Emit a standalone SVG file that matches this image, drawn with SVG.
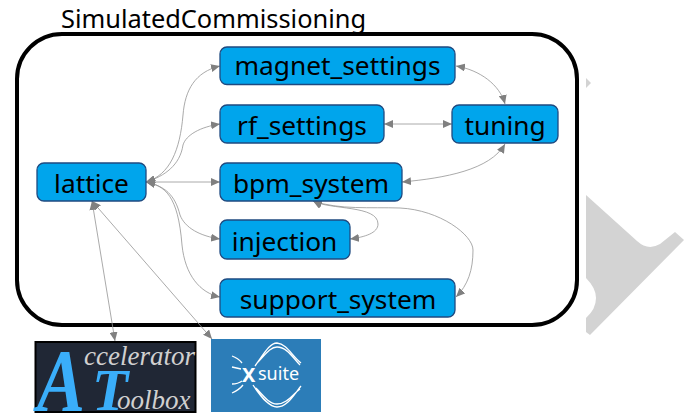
<svg xmlns="http://www.w3.org/2000/svg" width="694" height="414" viewBox="0 0 694 414">
<style>
.n{fill:#00a5ec;stroke:#1f4a80;stroke-width:1.3}
.t{font-family:"Noto Sans","DejaVu Sans",sans-serif;font-size:26.3px;fill:#000;text-anchor:middle}
.e{fill:none;stroke:#949494;stroke-width:.8;marker-start:url(#a);marker-end:url(#a)}
.w{fill:none;stroke:#fff;stroke-width:1.3}
.s{font-family:"Liberation Serif",serif;font-style:italic}
.b{fill:#3aaefa;font-weight:bold}
.g{fill:#d0d0d0;font-size:27px}
</style>
<defs><marker id="a" viewBox="0 0 9 8" refX="9" refY="4" markerWidth="9" markerHeight="8" markerUnits="userSpaceOnUse" orient="auto-start-reverse"><path d="M0,0L9,4L0,8z" fill="#808080"/></marker></defs>
<rect width="694" height="414" fill="#fff"/>
<g id="bg" fill="#d3d3d3"><path d="M586,78L591,83L586,88z"/><path d="M586,195L637,241Q648,251 660,244L675,232L684,240L590,335L586,332V318Q596,309 596,298Q596,288 586,278z"/></g>
<g id="cluster"><rect x="17" y="34" width="560" height="291" rx="45" fill="none" stroke="#000" stroke-width="4"/><text x="61" y="28" font-family="Noto Sans,DejaVu Sans,sans-serif" font-size="25.400">SimulatedCommissioning</text></g>
<g id="connectors">
<path class="e" d="M146,182C170,175 180,150 183,115C185,90 195,72 220,66"/>
<path class="e" d="M146,182C165,176 180,165 183,145C186,135 200,127 220,124"/>
<path class="e" d="M146,182H220"/>
<path class="e" d="M146,182C165,186 175,195 180,215C185,228 200,236 220,239"/>
<path class="e" d="M146,182C165,186 178,195 182,245C185,275 200,293 220,297"/>
<path class="e" d="M456,66C480,70 500,85 505,104"/>
<path class="e" d="M384,124H452"/>
<path class="e" d="M402,182C445,178 490,170 505,144"/>
<path class="e" d="M92,201L115,341"/>
<path class="e" d="M92,201L212,339"/>
<path class="e" d="M313,201C330,210 378,205 378,224C378,233 365,237 350,239"/>
<path class="e" d="M313,201C340,210 370,207 400,208C440,210 473,235 473,250C473,270 468,285 456,297"/>
</g>
<g id="lattice"><rect class="n" x="37" y="163" width="109" height="38" rx="7"/><text class="t" x="91.500" y="193">lattice</text></g>
<g id="magnet_settings"><rect class="n" x="220" y="47" width="235" height="37.500" rx="7"/><text class="t" x="337.500" y="75">magnet_settings</text></g>
<g id="rf_settings"><rect class="n" x="220" y="105" width="164" height="38" rx="7"/><text class="t" x="302" y="135">rf_settings</text></g>
<g id="bpm_system"><rect class="n" x="220" y="163" width="182" height="38" rx="7"/><text class="t" x="311" y="193">bpm_system</text></g>
<g id="tuning"><rect class="n" x="452" y="105" width="106" height="38" rx="7"/><text class="t" x="505" y="135">tuning</text></g>
<g id="injection"><rect class="n" x="220" y="220" width="130" height="39" rx="7"/><text class="t" x="284.500" y="251">injection</text></g>
<g id="support_system"><rect class="n" x="220" y="279" width="235" height="38" rx="7"/><text class="t" x="338" y="309">support_system</text></g>
<g id="accelerator_toolbox"><rect x="35.500" y="342" width="160" height="70" fill="#202735" stroke="#000" stroke-width="2"/>
<text class="s b" x="37" y="410" font-size="88" textLength="48" lengthAdjust="spacingAndGlyphs">A</text><text class="s b" x="92" y="410" font-size="59">T</text>
<text class="s g" x="84" y="365" font-size="26">ccelerator</text><text class="s g" x="117" y="409">oolbox</text></g>
<g id="xsuite"><rect x="211" y="339" width="110" height="73" fill="#2c7db8"/>
<path class="w" d="M255,366C265,352 270,343 277,343C287,344 292,356 301,363M257,363C265,355 270,347 277,347C287,347 293,358 300,365"/>
<path class="w" d="M253,385C263,400 270,407 277,407C287,407 293,396 301,386M256,388C265,398 270,404 277,404C287,404 293,394 300,389"/>
<path class="w" d="M232,356Q238,358 242,363M232,367L241,369M232,384Q238,384 242,381M232,393Q239,390 243,385"/>
<text x="242" y="382" font-family="Noto Sans,sans-serif" font-size="20" font-weight="bold" fill="#fff">X</text>
<text x="258" y="380" font-family="Noto Sans,sans-serif" font-size="18" fill="#fff">suite</text></g>
</svg>
